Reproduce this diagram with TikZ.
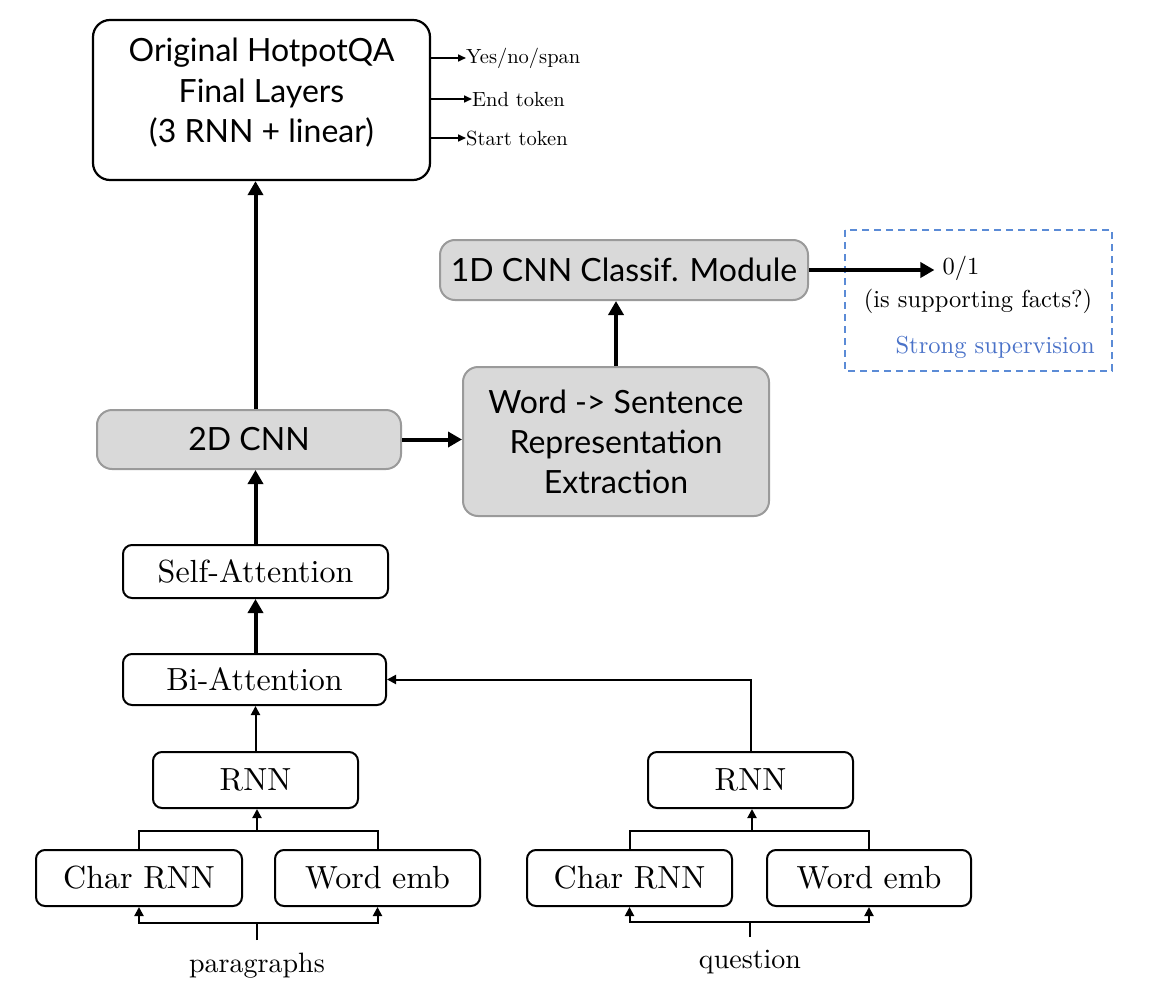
\documentclass[tikz,border=0pt]{standalone}
\usepackage{fontspec}
\newfontfamily\sansf{Lato}
\newfontfamily\cmten{lmroman10-regular}[Extension=.otf]
\usetikzlibrary{arrows.meta}
\definecolor{boxgray}{HTML}{D9D9D9}
\definecolor{bordergray}{HTML}{9A9A9A}
\definecolor{supblue}{HTML}{4A72C8}
\definecolor{dashblue}{HTML}{5B8BD6}
\begin{document}
\begin{tikzpicture}[x=1pt,y=-1pt,
  graybox/.style={draw=bordergray, fill=boxgray, line width=2pt, rounded corners=15pt,
    inner sep=0pt, align=center, font=\sansf\fontsize{32}{40}\selectfont},
  topbox/.style={draw=black, fill=white, line width=2.2pt, rounded corners=17pt,
    inner sep=0pt, align=center, font=\sansf\fontsize{32}{40.5}\selectfont},
  cmbox/.style={draw=black, fill=white, line width=2pt, rounded corners=9pt,
    inner sep=0pt, font=\cmten\fontsize{32}{38}\selectfont},
  outlabel/.style={anchor=west, inner sep=0pt, font=\cmten\fontsize{20.5}{24}\selectfont},
  inlabel/.style={inner sep=0pt, font=\cmten\fontsize{28}{32}\selectfont},
  factlabel/.style={inner sep=0pt, font=\cmten\fontsize{24.5}{28}\selectfont},
  bigarrow/.style={line width=4pt, -{Triangle[length=14pt,width=15pt]}},
  smallarrow/.style={line width=2pt, -{Triangle[length=9pt,width=9pt]}},
  outarrow/.style={line width=1.6pt, -{Triangle[length=8pt,width=7pt]}},
  plainline/.style={line width=2pt},
]
\useasboundingbox (0,0) rectangle (1154,990);

% nodes
\node[topbox, minimum width=337pt, minimum height=160pt] (top) at (261.5,100)
  {Original HotpotQA\\Final Layers\\(3 RNN + linear)\rule[-19pt]{0pt}{19pt}};
\node[outlabel] (yes) at (466,58) {Yes/no/span};
\node[outlabel] (endt) at (472,99) {End token};
\node[outlabel] (start) at (466,138) {Start token};

\node[graybox, minimum width=368pt, minimum height=60pt] (cnn1d) at (624,270) {1D CNN Classif. Module};
\node[factlabel, inner xsep=8pt] (zo) at (961,268) {0/1};
\node[factlabel] (isf) at (978,301) {(is supporting facts?)};
\node[factlabel, anchor=east, text=supblue] (strong) at (1095,347) {Strong supervision};

\node[graybox, minimum width=306pt, minimum height=149pt] (ws) at (616,441.5)
  {Word -> Sentence\\Representation\\Extraction};
\node[graybox, minimum width=304pt, minimum height=59pt] (cnn2d) at (249,439.5) {2D CNN};

\node[cmbox, minimum width=265pt, minimum height=53pt] (self) at (255.5,571.5) {Self-Attention};
\node[cmbox, minimum width=263pt, minimum height=51pt] (bi) at (254.5,679.5) {Bi-Attention};
\node[cmbox, minimum width=205pt, minimum height=56pt] (rnnL) at (255.5,780) {RNN};
\node[cmbox, minimum width=206pt, minimum height=56pt] (charL) at (139,878) {Char RNN};
\node[cmbox, minimum width=205pt, minimum height=56pt] (wordL) at (377.5,878) {Word emb};
\node[cmbox, minimum width=205pt, minimum height=56pt] (rnnR) at (750.5,780) {RNN};
\node[cmbox, minimum width=205pt, minimum height=56pt] (charR) at (629.5,878) {Char RNN};
\node[cmbox, minimum width=204pt, minimum height=56pt] (wordR) at (869,878) {Word emb};
\node[inlabel, anchor=north] (para) at (257,953) {paragraphs};
\node[inlabel, anchor=north] (quest) at (750,950) {question};

% dashed supervision box
\draw[dashblue, line width=1.8pt, dash pattern=on 7pt off 5pt] (845,230) rectangle (1112,371);

% top outputs
\draw[outarrow] (top.east |- yes.west) -- (yes.west);
\draw[outarrow] (top.east |- endt.west) -- (endt.west);
\draw[outarrow] (top.east |- start.west) -- (start.west);

% thick arrows
\draw[bigarrow] (self.north |- cnn2d.north) -- (self.north |- top.south);
\draw[bigarrow] (self.north) -- (self.north |- cnn2d.south);
\draw[bigarrow] (bi.north -| self.north) -- (self.south);
\draw[bigarrow] (cnn2d.east) -- (cnn2d.east -| ws.west);
\draw[bigarrow] (ws.north) -- (ws.north |- cnn1d.south);
\draw[bigarrow] (cnn1d.east) -- (cnn1d.east -| zo.west);

% thin arrows left column
\draw[smallarrow] (rnnL.north) -- (rnnL.north |- bi.south);
\coordinate (jL) at (257,831);
\coordinate (bL) at (257,923);
\draw[plainline] (charL.north) |- (jL) -| (wordL.north);
\draw[smallarrow] (jL) -- (jL |- rnnL.south);
\draw[plainline] (bL |- 0,940) -- (bL);
\draw[smallarrow] (bL) -| (charL.south);
\draw[smallarrow] (bL) -| (wordL.south);

% right column
\draw[smallarrow] (rnnR.north) |- (bi.east);
\coordinate (jR) at (752,831);
\coordinate (bR) at (750,922);
\draw[plainline] (charR.north) |- (jR) -| (wordR.north);
\draw[smallarrow] (jR) -- (jR |- rnnR.south);
\draw[plainline] (bR |- 0,937) -- (bR);
\draw[smallarrow] (bR) -| (charR.south);
\draw[smallarrow] (bR) -| (wordR.south);
\end{tikzpicture}
\end{document}
